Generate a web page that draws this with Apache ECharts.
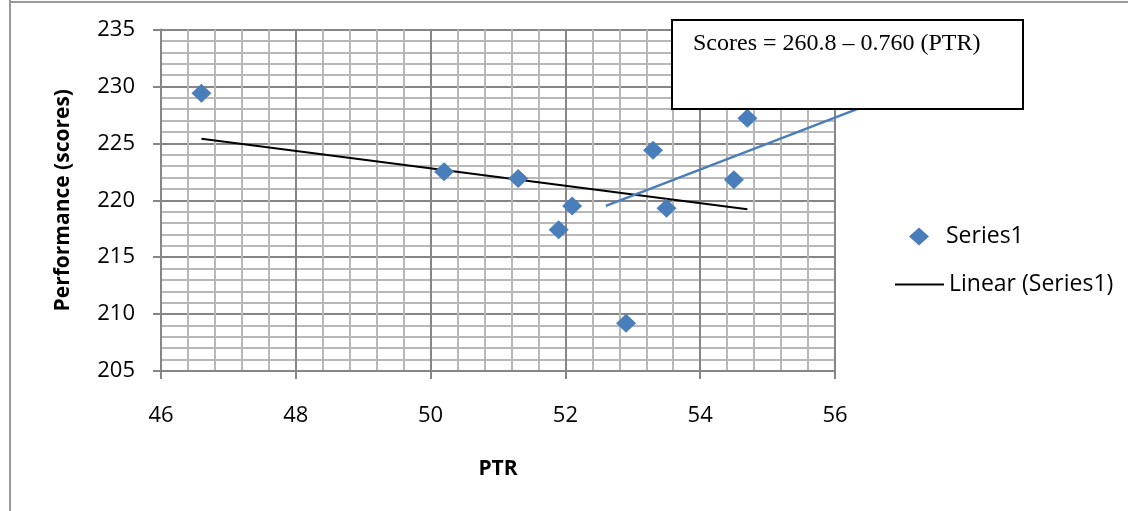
<!DOCTYPE html>
<html>
<head>
<meta charset="utf-8">
<script src="https://cdn.jsdelivr.net/npm/echarts@6/dist/echarts.min.js"></script>
<style>
  html, body { margin: 0; padding: 0; background: #fff; }
  #chart { width: 1128px; height: 511px; }
</style>
</head>
<body>
<div id="chart"></div>
<script>
// PTR (x) and performance scores (y)
const ptrValues = [46.6, 50.2, 51.3, 51.9, 52.1, 52.9, 53.3, 53.5, 54.5, 54.7];
const scoreValues = [229.4, 222.5, 221.9, 217.4, 219.5, 209.2, 224.4, 219.3, 221.8, 227.2];
// Excel linear trendline end points (as drawn)
const trendX = [46.6, 54.7];
const trendY = [225.4, 219.2];
// Extra hand-drawn blue line (end hidden under the equation box)
const blueX = [52.6, 56.5];
const blueY = [219.5, 228.4];
const equationText = 'Scores = 260.8 \u2013 0.760 (PTR)';
const xTicks = { min: 46, max: 56, interval: 2 };
const yTicks = { min: 205, max: 235, interval: 5 };

const zip = (a, b) => a.map((v, i) => [v, b[i]]);

const chart = echarts.init(document.getElementById('chart'), null, { renderer: 'canvas' });
const labelFont = { color: '#000', fontFamily: 'Open Sans', fontSize: 22 };
const nameFont = { color: '#000', fontFamily: 'Open Sans', fontSize: 21, fontWeight: 'bold' };

const staticGraphics = [
  { id: 'frameL', type: 'line', z: 100, shape: { x1: 10, y1: 0, x2: 10, y2: 511 }, style: { stroke: '#9a9a9a', lineWidth: 2 } },
  { id: 'frameT', type: 'line', z: 100, shape: { x1: 9, y1: 2, x2: 1128, y2: 2 }, style: { stroke: '#9a9a9a', lineWidth: 2 } },
  {
    id: 'eqBox', type: 'rect', z: 100,
    shape: { x: 672, y: 20, width: 351, height: 89 },
    style: { fill: '#fff', stroke: '#000', lineWidth: 2 }
  },
  {
    id: 'eqText', type: 'text', z: 101,
    x: 693, y: 44,
    style: {
      text: equationText,
      fill: '#000',
      font: '24px "Liberation Serif", "Times New Roman", serif',
      textVerticalAlign: 'middle',
      textAlign: 'left'
    }
  }
];

chart.setOption({
  animation: false,
  backgroundColor: '#fff',
  grid: { left: 161, right: 293, top: 29.5, bottom: 140, containLabel: false },
  xAxis: {
    type: 'value',
    min: xTicks.min, max: xTicks.max, interval: xTicks.interval,
    name: 'PTR', nameLocation: 'middle', nameGap: 88,
    nameTextStyle: nameFont,
    axisLine: { show: true, lineStyle: { color: '#868686', width: 2 } },
    axisTick: { show: true, inside: false, length: 8, lineStyle: { color: '#868686', width: 2 } },
    axisLabel: Object.assign({ margin: 34 }, labelFont),
    splitLine: { show: true, lineStyle: { color: '#868686', width: 2 } },
    minorTick: { show: false, splitNumber: 5 },
    minorSplitLine: { show: true, lineStyle: { color: '#b8b8b8', width: 2 } }
  },
  yAxis: {
    type: 'value',
    min: yTicks.min, max: yTicks.max, interval: yTicks.interval,
    name: 'Performance (scores)', nameLocation: 'middle', nameGap: 87,
    nameTextStyle: nameFont,
    axisLine: { show: true, lineStyle: { color: '#868686', width: 2 } },
    axisTick: { show: true, inside: false, length: 8, lineStyle: { color: '#868686', width: 2 } },
    axisLabel: Object.assign({ margin: 26 }, labelFont),
    splitLine: { show: true, lineStyle: { color: '#868686', width: 2 } },
    minorTick: { show: false, splitNumber: 5 },
    minorSplitLine: { show: true, lineStyle: { color: '#b8b8b8', width: 2 } }
  },
  legend: [
    {
      data: [{ name: 'Series1', icon: 'diamond' }],
      left: 904, top: 220, itemWidth: 20, itemHeight: 18, itemGap: 10,
      textStyle: { color: '#000', fontFamily: 'Open Sans', fontSize: 23, padding: [0, 0, 0, 12] },
      selectedMode: false
    },
    {
      data: [{ name: 'Linear (Series1)', icon: 'rect' }],
      left: 890, top: 268, itemWidth: 49, itemHeight: 2, itemGap: 10,
      textStyle: { color: '#000', fontFamily: 'Open Sans', fontSize: 23, padding: [0, 0, 0, 0] },
      selectedMode: false
    }
  ],
  series: [
    {
      name: 'Series1',
      type: 'scatter',
      symbol: 'diamond',
      symbolSize: [20, 19],
      itemStyle: { color: '#4A7EBB', opacity: 1 },
      data: zip(ptrValues, scoreValues),
      z: 4
    },
    {
      name: 'Linear (Series1)',
      type: 'line',
      symbol: 'none',
      lineStyle: { color: '#000', width: 2 },
      itemStyle: { color: '#000' },
      data: zip(trendX, trendY),
      z: 3
    }
  ],
  graphic: staticGraphics
});

// Blue line: extends beyond the plot's right edge, so draw it through the axis scales
const bluePts = zip(blueX, blueY).map(p => chart.convertToPixel({ gridIndex: 0 }, p));
chart.setOption({
  graphic: staticGraphics.concat([{
    id: 'blueLine', type: 'polyline', z: 50,
    shape: { points: bluePts },
    style: { stroke: '#4A7EBB', lineWidth: 2.5, fill: null }
  }])
});
</script>
</body>
</html>
